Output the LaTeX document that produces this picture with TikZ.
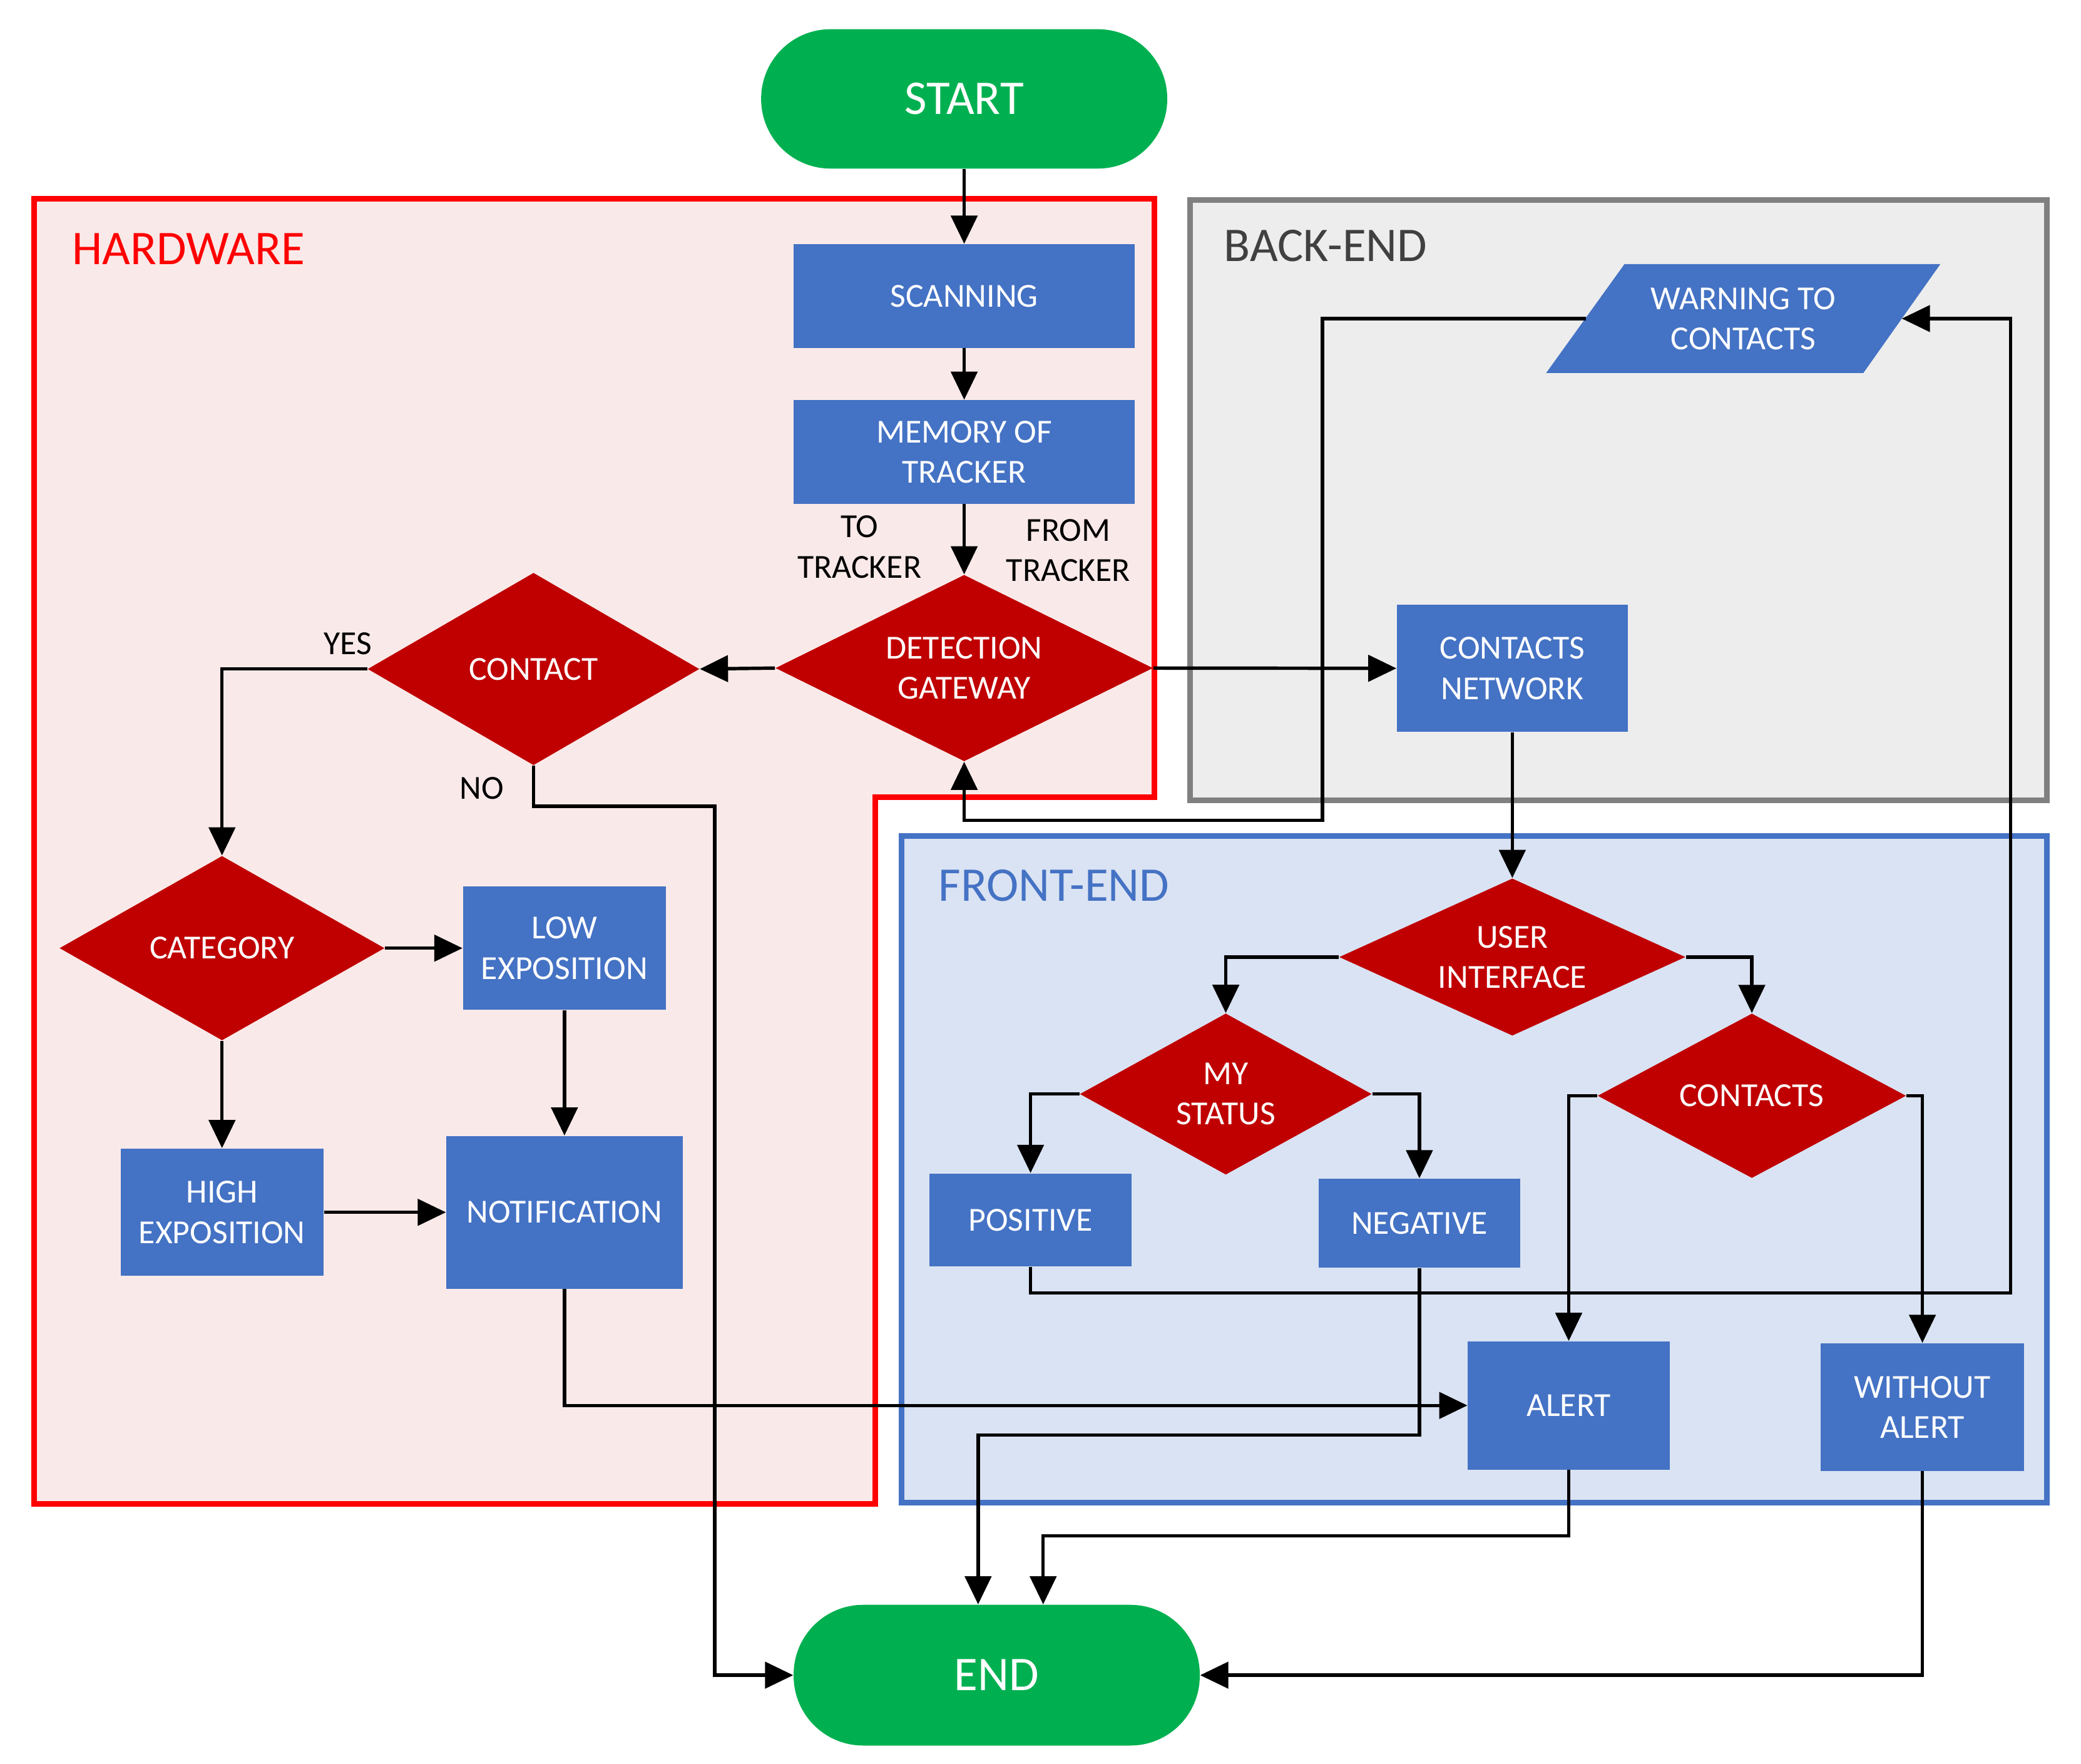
\documentclass[tikz,border=0pt]{standalone}
\usepackage{fontspec}
\setmainfont{Carlito}
\usetikzlibrary{shapes.geometric,arrows.meta}
\definecolor{boxblue}{RGB}{68,114,196}
\definecolor{diared}{RGB}{192,0,0}
\definecolor{termgreen}{RGB}{0,176,80}
\definecolor{hwfill}{RGB}{249,234,233}
\definecolor{hwline}{RGB}{255,0,0}
\definecolor{befill}{RGB}{237,237,237}
\definecolor{beline}{RGB}{128,128,128}
\definecolor{betext}{RGB}{64,64,64}
\definecolor{fefill}{RGB}{218,227,243}
\definecolor{feline}{RGB}{68,114,196}
\def\U{0.021205cm}
\tikzset{
  smallfont/.style={font=\fontsize{15.3}{18.3}\selectfont},
  bigfont/.style={font=\fontsize{22}{26}\selectfont},
  bx/.style 2 args={rectangle, fill=boxblue, text=white, inner sep=0pt,
    minimum width={#1*\U}, minimum height={#2*\U}, align=center, smallfont},
  dia/.style 2 args={diamond, fill=diared, inner sep=0pt,
    minimum width={#1*\U}, minimum height={#2*\U}},
  dtxt/.style={text=white, align=center, inner sep=0pt, smallfont},
  term/.style 2 args={rectangle, rounded corners=1.11cm, fill=termgreen, text=white,
    inner sep=0pt, minimum width={#1*\U}, minimum height={#2*\U}, bigfont},
  conn/.style={line width=1.55pt, -{Triangle[length=0.45cm,width=0.42cm]}, line join=miter},
  lbl/.style={align=center, inner sep=0pt, smallfont},
  sect/.style={line width=0.09cm, line join=miter},
  sectlbl/.style={anchor=west, inner sep=0pt, bigfont},
}
\begin{document}
\begin{tikzpicture}[x=\U, y=-\U]
\useasboundingbox (0,0) rectangle (1568,1328.5);
% section boxes
\draw[sect, draw=hwline, fill=hwfill] (25.5,149.5) -- (870,149.5) -- (870,600.5) -- (659.5,600.5) -- (659.5,1133) -- (25.5,1133) -- cycle;
\draw[sect, draw=beline, fill=befill] (896.5,150.5) rectangle (1542.5,603);
\draw[sect, draw=feline, fill=fefill] (679.5,630) rectangle (1542.5,1132);
\node[sectlbl, text=hwline] (hwlbl) at (54,187.6) {HARDWARE};
\node[sectlbl, text=betext] (belbl) at (922,185) {BACK-END};
\node[sectlbl, text=feline] (felbl) at (707,667) {FRONT-END};
% nodes
\node[term={306}{105}] (start) at (726.5,74.5) {START};
\node[bx={257}{78}] (scan) at (726.5,223) {SCANNING};
\node[bx={257}{78}] (mem) at (726.5,340.5) {MEMORY OF\\TRACKER};
\node[dia={284.5}{140.5}, label={[dtxt]center:DETECTION\\GATEWAY}] (det) at (726.5,503.3) {};
\node[dia={250}{145}, label={[dtxt]center:CONTACT}] (contact) at (402,504) {};
\node[bx={174}{96}] (cnet) at (1139.5,503.5) {CONTACTS\\NETWORK};
% parallelogram (warning to contacts)
\fill[boxblue] (1224,199) -- (1462,199) -- (1404,281) -- (1165,281) -- cycle;
\node[dtxt] (warn) at (1313.5,240) {WARNING TO\\CONTACTS};
\coordinate (warnL) at (1195,240);
\coordinate (warnR) at (1433,240);
\node[dia={245}{139}, label={[dtxt]center:CATEGORY}] (cat) at (167.3,714.3) {};
\node[bx={153}{93}] (low) at (425.3,714.3) {LOW\\EXPOSITION};
\node[bx={153}{96}] (high) at (167.3,913.3) {HIGH\\EXPOSITION};
\node[bx={178}{115}] (notif) at (425.3,913.3) {NOTIFICATION};
\node[dia={261}{118.5}, label={[dtxt]center:USER\\INTERFACE}] (ui) at (1139.5,721) {};
\node[dia={220}{121.5}, label={[dtxt]center:MY\\STATUS}] (mys) at (923.6,824.2) {};
\node[dia={232.5}{124}, label={[dtxt]center:CONTACTS}] (cts) at (1320,825.5) {};
\node[bx={152.6}{70}] (pos) at (776.5,919) {POSITIVE};
\node[bx={152}{67}] (neg) at (1069.5,921.5) {NEGATIVE};
\node[bx={152}{96.5}] (alert) at (1182,1058.8) {ALERT};
\node[bx={153}{96}] (walert) at (1448.5,1060) {WITHOUT\\ALERT};
\node[term={306}{106}] (endn) at (751,1262) {END};
% labels
\node[lbl] (tolbl) at (647.6,412) {TO\\TRACKER};
\node[lbl] (fromlbl) at (805,414.5) {FROM\\TRACKER};
\node[lbl] (yeslbl) at (262,485) {YES};
\node[lbl] (nolbl) at (363,594) {NO};
% bend coordinates
\coordinate (nobend) at (538.5,607.5);
\coordinate (warnbend) at (996.5,618);
\coordinate (posbend) at (1515,974);
\coordinate (negbend) at (737,1081);
\coordinate (alertbend) at (786,1157);
% connectors
\draw[conn] (start.south) -- (scan.north);
\draw[conn] (scan.south) -- (mem.north);
\draw[conn] (mem.south) -- (det.north);
\draw[conn] (det.west) -- (contact.east);
\draw[conn] (det.east) -- (cnet.west);
\draw[conn] (contact.west) -| (cat.north);
\draw[conn] (contact.south) |- (nobend) |- (endn.west);
\draw[conn] (cat.east) -- (low.west);
\draw[conn] (cat.south) -- (high.north);
\draw[conn] (high.east) -- (notif.west);
\draw[conn] (low.south) -- (notif.north);
\draw[conn] (notif.south) |- (alert.west);
\draw[conn] (cnet.south) -- (ui.north);
\draw[conn] (warnL) -| (warnbend) -| (det.south);
\draw[conn] (ui.west) -| (mys.north);
\draw[conn] (ui.east) -| (cts.north);
\draw[conn] (mys.west) -| (pos.north);
\draw[conn] (mys.east) -| (neg.north);
\draw[conn] (cts.west) -| (alert.north);
\draw[conn] (cts.east) -| (walert.north);
\draw[conn] (pos.south) |- (posbend) |- (warnR);
\draw[conn] (neg.south) |- (negbend) -- (negbend |- endn.north);
\draw[conn] (alert.south) |- (alertbend) -- (alertbend |- endn.north);
\draw[conn] (walert.south) |- (endn.east);
\end{tikzpicture}
\end{document}
